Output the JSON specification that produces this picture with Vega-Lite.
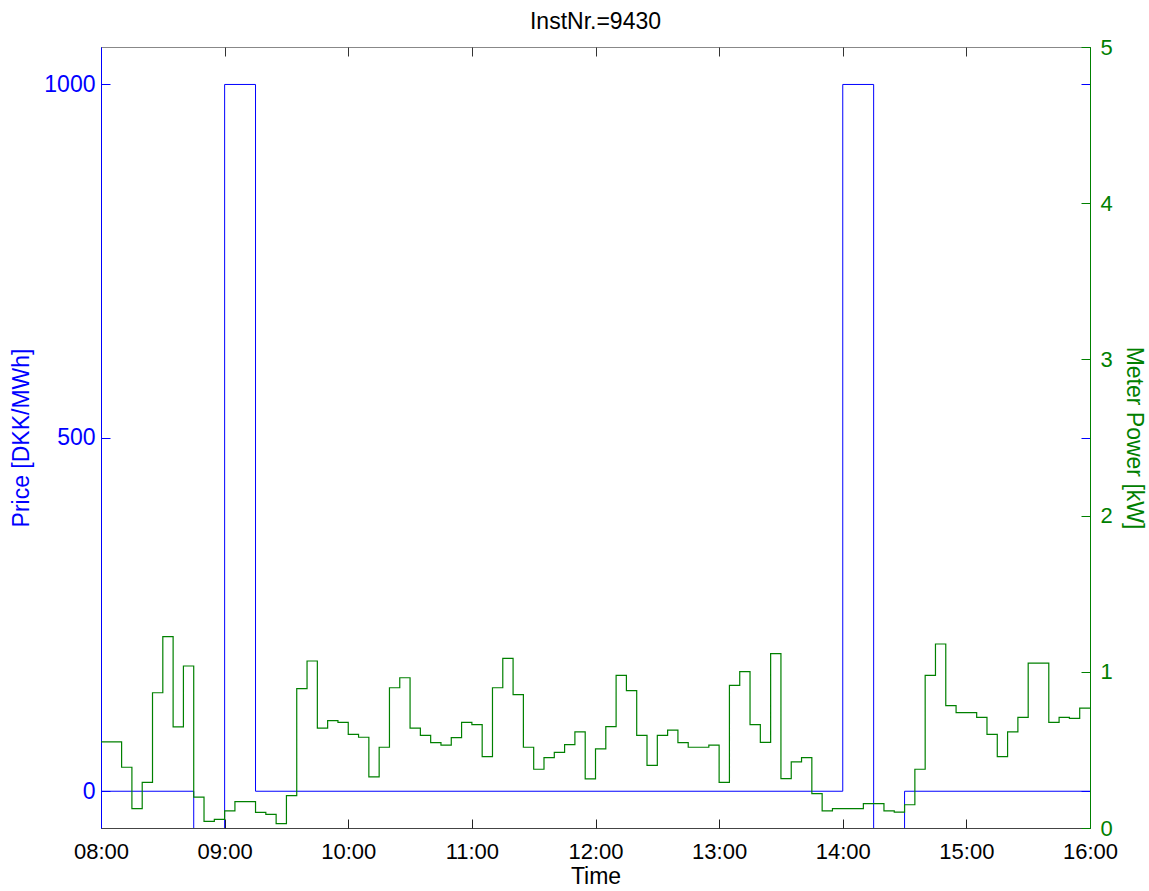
{
  "$schema": "https://vega.github.io/schema/vega-lite/v6.json",
  "autosize": "none",
  "width": 989,
  "height": 781,
  "padding": {"left": 101, "top": 47, "right": 59, "bottom": 63},
  "background": "white",
  "title": {"text": "InstNr.=9430", "fontSize": 23, "fontWeight": "normal", "font": "Liberation Sans", "color": "black", "offset": 2},
  "config": {"view": {"stroke": "#888", "strokeWidth": 1}, "axis": {"grid": false, "labelFont": "Liberation Sans", "titleFont": "Liberation Sans", "labelFontSize": 23, "titleFontSize": 23, "titleFontWeight": "normal", "tickWidth": 1, "domainWidth": 1}},
  "datasets": {
    "price": [
      {"m": 480, "price": 0},
      {"m": 525, "price": -150},
      {"m": 540, "price": 1000},
      {"m": 555, "price": 0},
      {"m": 840, "price": 1000},
      {"m": 855, "price": -150},
      {"m": 870, "price": 0},
      {"m": 960, "price": 0}
    ],
    "power": [
      {"m": 480, "kw": 0.551}, {"m": 485, "kw": 0.551}, {"m": 490, "kw": 0.389}, {"m": 495, "kw": 0.124},
      {"m": 500, "kw": 0.292}, {"m": 505, "kw": 0.866}, {"m": 510, "kw": 1.225}, {"m": 515, "kw": 0.647},
      {"m": 520, "kw": 1.037}, {"m": 525, "kw": 0.198}, {"m": 530, "kw": 0.043}, {"m": 535, "kw": 0.055},
      {"m": 540, "kw": 0.109}, {"m": 545, "kw": 0.169}, {"m": 550, "kw": 0.169}, {"m": 555, "kw": 0.100},
      {"m": 560, "kw": 0.087}, {"m": 565, "kw": 0.028}, {"m": 570, "kw": 0.207}, {"m": 575, "kw": 0.892},
      {"m": 580, "kw": 1.069}, {"m": 585, "kw": 0.640}, {"m": 590, "kw": 0.687}, {"m": 595, "kw": 0.676},
      {"m": 600, "kw": 0.600}, {"m": 605, "kw": 0.581}, {"m": 610, "kw": 0.327}, {"m": 615, "kw": 0.517},
      {"m": 620, "kw": 0.898}, {"m": 625, "kw": 0.962}, {"m": 630, "kw": 0.640}, {"m": 635, "kw": 0.593},
      {"m": 640, "kw": 0.546}, {"m": 645, "kw": 0.531}, {"m": 650, "kw": 0.578}, {"m": 655, "kw": 0.676},
      {"m": 660, "kw": 0.662}, {"m": 665, "kw": 0.457}, {"m": 670, "kw": 0.898}, {"m": 675, "kw": 1.086},
      {"m": 680, "kw": 0.854}, {"m": 685, "kw": 0.517}, {"m": 690, "kw": 0.376}, {"m": 695, "kw": 0.450},
      {"m": 700, "kw": 0.484}, {"m": 705, "kw": 0.534}, {"m": 710, "kw": 0.615}, {"m": 715, "kw": 0.314},
      {"m": 720, "kw": 0.506}, {"m": 725, "kw": 0.649}, {"m": 730, "kw": 0.977}, {"m": 735, "kw": 0.879},
      {"m": 740, "kw": 0.593}, {"m": 745, "kw": 0.401}, {"m": 750, "kw": 0.593}, {"m": 755, "kw": 0.627},
      {"m": 760, "kw": 0.546}, {"m": 765, "kw": 0.517}, {"m": 770, "kw": 0.517}, {"m": 775, "kw": 0.531},
      {"m": 780, "kw": 0.292}, {"m": 785, "kw": 0.913}, {"m": 790, "kw": 1.001}, {"m": 795, "kw": 0.662},
      {"m": 800, "kw": 0.548}, {"m": 805, "kw": 1.116}, {"m": 810, "kw": 0.316}, {"m": 815, "kw": 0.423},
      {"m": 820, "kw": 0.450}, {"m": 825, "kw": 0.220}, {"m": 830, "kw": 0.109}, {"m": 835, "kw": 0.124},
      {"m": 840, "kw": 0.124}, {"m": 845, "kw": 0.124}, {"m": 850, "kw": 0.156}, {"m": 855, "kw": 0.156},
      {"m": 860, "kw": 0.109}, {"m": 865, "kw": 0.102}, {"m": 870, "kw": 0.149}, {"m": 875, "kw": 0.376},
      {"m": 880, "kw": 0.977}, {"m": 885, "kw": 1.178}, {"m": 890, "kw": 0.783}, {"m": 895, "kw": 0.738},
      {"m": 900, "kw": 0.738}, {"m": 905, "kw": 0.708}, {"m": 910, "kw": 0.600}, {"m": 915, "kw": 0.457},
      {"m": 920, "kw": 0.615}, {"m": 925, "kw": 0.708}, {"m": 930, "kw": 1.056}, {"m": 935, "kw": 1.056},
      {"m": 940, "kw": 0.676}, {"m": 945, "kw": 0.708}, {"m": 950, "kw": 0.702}, {"m": 955, "kw": 0.768},
      {"m": 960, "kw": 0.768}
    ]
  },
  "layer": [
    {
      "data": {"name": "price"},
      "mark": {"type": "line", "interpolate": "step-after", "color": "#0000ff", "strokeWidth": 1, "clip": true},
      "encoding": {
        "x": {"field": "m", "type": "quantitative", "scale": {"domain": [480, 960], "nice": false, "zero": false},
          "axis": {"orient": "bottom", "title": "Time", "values": [480, 540, 600, 660, 720, 780, 840, 900, 960],
            "labelExpr": "(datum.value < 600 ? '0' : '') + floor(datum.value / 60) + ':00'",
            "ticks": false, "labelPadding": 13, "labelFontSize": 22, "domainColor": "#444", "labelColor": "black", "titleColor": "black", "titlePadding": 3, "labelFlush": false}},
        "y": {"field": "price", "type": "quantitative", "scale": {"domain": [-52, 1053], "nice": false, "zero": false},
          "axis": {"orient": "left", "title": "Price [DKK/MWh]", "values": [0, 500, 1000], "format": "d", "ticks": false, "labelPadding": 6,
            "domainColor": "#0000ff", "labelColor": "#0000ff", "titleColor": "#0000ff", "titlePadding": 10}}
      }
    },
    {
      "data": {"name": "price"},
      "mark": {"type": "line", "interpolate": "step-after", "opacity": 0, "clip": true},
      "encoding": {
        "x": {"field": "m", "type": "quantitative", "scale": {"domain": [480, 960], "nice": false, "zero": false},
          "axis": {"orient": "bottom", "title": null, "labels": false, "domain": false, "offset": -9, "tickSize": 9, "tickColor": "#222",
            "values": [480, 540, 600, 660, 720, 780, 840, 900, 960]}},
        "y": {"field": "price", "type": "quantitative", "scale": {"domain": [-52, 1053], "nice": false, "zero": false},
          "axis": {"orient": "left", "title": null, "labels": false, "domain": false, "offset": -9, "tickSize": 9, "tickColor": "#0000ff", "values": [0, 500, 1000]}}
      }
    },
    {
      "data": {"name": "price"},
      "mark": {"type": "line", "interpolate": "step-after", "opacity": 0, "clip": true},
      "encoding": {
        "x": {"field": "m", "type": "quantitative", "scale": {"domain": [480, 960], "nice": false, "zero": false},
          "axis": {"orient": "top", "title": null, "labels": false, "domain": false, "offset": -9, "tickSize": 9, "tickColor": "#333",
            "values": [480, 540, 600, 660, 720, 780, 840, 900, 960]}},
        "y": {"field": "price", "type": "quantitative", "scale": {"domain": [-52, 1053], "nice": false, "zero": false},
          "axis": {"orient": "right", "title": null, "labels": false, "domain": false, "offset": -9, "tickSize": 9, "tickColor": "#0000ff", "values": [0, 500, 1000]}}
      }
    },
    {
      "data": {"name": "power"},
      "mark": {"type": "line", "interpolate": "step-after", "color": "#008000", "strokeWidth": 1.2, "clip": true},
      "encoding": {
        "x": {"field": "m", "type": "quantitative", "scale": {"domain": [480, 960], "nice": false, "zero": false}, "axis": null},
        "y": {"field": "kw", "type": "quantitative", "scale": {"domain": [0, 5], "nice": false, "zero": false},
          "axis": {"orient": "right", "title": "Meter Power [kW]", "values": [0, 1, 2, 3, 4, 5], "ticks": false, "labelPadding": 10, "labelFontSize": 22,
            "domainColor": "#008000", "labelColor": "#008000", "titleColor": "#008000", "titlePadding": 9}}
      }
    },
    {
      "data": {"name": "power"},
      "mark": {"type": "line", "interpolate": "step-after", "opacity": 0, "clip": true},
      "encoding": {
        "x": {"field": "m", "type": "quantitative", "scale": {"domain": [480, 960], "nice": false, "zero": false}, "axis": null},
        "y": {"field": "kw", "type": "quantitative", "scale": {"domain": [0, 5], "nice": false, "zero": false},
          "axis": {"orient": "right", "title": null, "labels": false, "domain": false, "offset": -9, "tickSize": 9, "tickColor": "#008000", "values": [0, 1, 2, 3, 4, 5]}}
      }
    }
  ],
  "resolve": {"scale": {"y": "independent"}, "axis": {"x": "independent", "y": "independent"}}
}
